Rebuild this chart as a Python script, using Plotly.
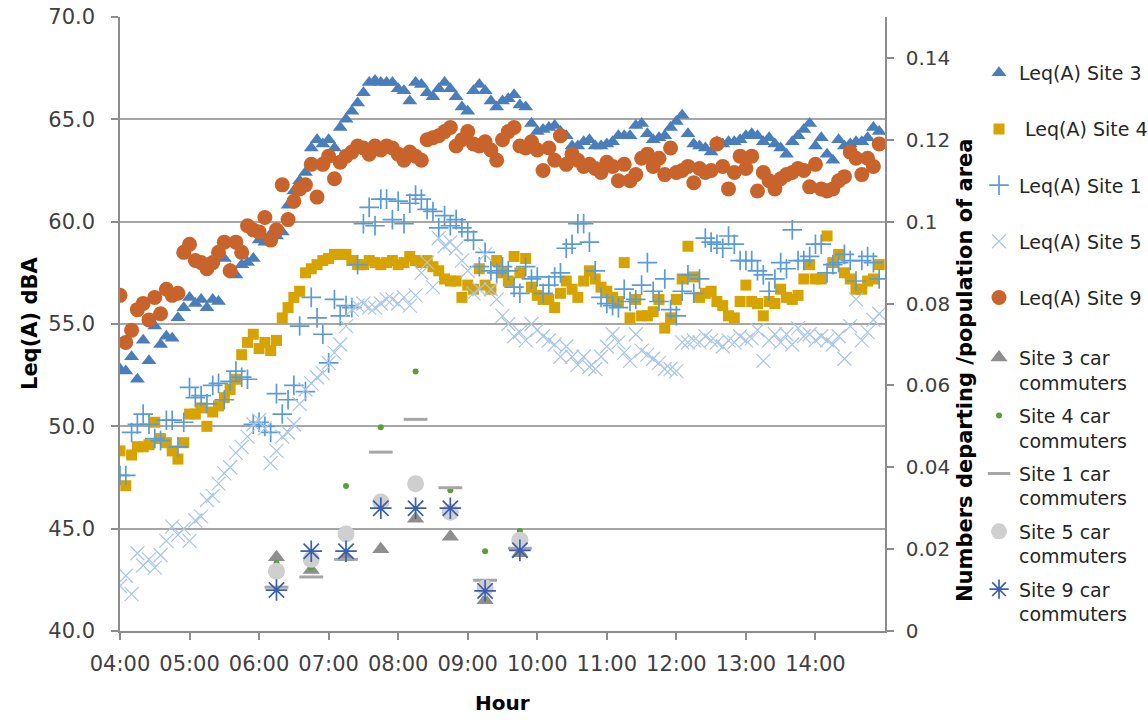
import plotly.graph_objects as go

FONT = "DejaVu Sans"

# ---------------- data ----------------
# 5-minute Leq readings from 04:00 to 14:55
times = ["2020-01-01 %02d:%02d" % (4 + (5 * i) // 60, (5 * i) % 60) for i in range(132)]

site3 = [52.8, 52.7, 53.4, 52.3, 54.2, 53.2, 54.9, 54.0, 54.4, 54.3,
         55.3, 55.8, 56.3, 56.0, 56.2, 55.8, 56.2, 56.1, 58.2, 57.7,
         57.4, 57.9, 58.0, 58.2, 59.1, 59.0, 59.4, 59.3, 59.5, 60.8,
         61.5, 62.0, 62.4, 63.6, 64.0, 63.8, 64.0, 63.6, 64.6, 65.0,
         65.4, 65.8, 66.3, 66.8, 66.9, 66.8, 66.8, 66.8, 66.5, 66.4,
         65.9, 66.8, 66.7, 66.3, 66.1, 66.5, 66.8, 66.5, 66.1, 65.6,
         65.4, 66.4, 66.7, 66.4, 65.9, 65.6, 65.9, 66.0, 66.2, 65.7,
         65.6, 64.8, 64.4, 64.5, 64.6, 64.7, 64.4, 64.2, 63.7, 63.7,
         63.9, 64.0, 63.7, 63.7, 63.8, 63.9, 64.2, 64.2, 64.2, 64.7,
         64.8, 64.3, 64.0, 64.1, 64.2, 64.6, 64.9, 65.2, 64.3, 63.8,
         63.7, 63.6, 63.4, 63.9, 63.8, 63.9, 63.9, 64.0, 64.2, 64.3,
         64.2, 63.9, 64.1, 63.8, 63.6, 63.3, 63.9, 64.2, 64.5, 64.8,
         63.7, 64.1, 63.3, 63.0, 64.0, 63.7, 63.8, 63.9, 63.9, 64.1,
         64.6, 64.4]

site4 = [48.8, 47.1, 48.6, 49.0, 49.0, 49.1, 50.2, 49.4, 49.2, 48.8,
         48.4, 49.2, 50.6, 50.6, 50.9, 50.0, 50.7, 51.0, 51.4, 51.8,
         52.3, 53.5, 54.1, 54.5, 53.8, 54.1, 53.7, 54.2, 55.3, 55.8,
         56.3, 56.6, 57.5, 57.7, 57.9, 58.1, 58.2, 58.4, 58.4, 58.4,
         58.1, 57.9, 57.9, 58.1, 58.0, 57.9, 58.0, 58.1, 57.9, 58.0,
         58.3, 58.1, 58.0, 58.1, 57.8, 57.6, 57.2, 57.1, 57.1, 56.3,
         56.9, 56.7, 57.7, 56.9, 56.7, 58.1, 57.5, 57.1, 58.3, 57.5,
         58.2, 56.8, 56.4, 56.2, 56.2, 55.8, 56.5, 57.1, 56.7, 56.3,
         57.1, 57.6, 57.2, 56.8, 56.6, 56.3, 56.1, 58.0, 55.3, 56.2,
         55.4, 55.4, 55.6, 56.2, 54.8, 55.3, 56.2, 57.2, 58.8, 57.3,
         56.3, 56.5, 56.6, 56.1, 55.9, 55.4, 55.3, 56.1, 56.9, 56.1,
         56.0, 55.4, 56.1, 56.0, 56.7, 56.3, 56.2, 56.4, 57.2, 57.9,
         57.2, 57.2, 59.3, 58.0, 58.4, 57.5, 57.2, 56.7, 56.7, 57.1,
         57.2, 57.9]

site1 = [47.6, 47.6, 49.7, 50.1, 50.6, 50.1, 49.4, 49.3, 50.3, 50.3,
         49.0, 50.2, 51.9, 51.4, 51.5, 51.1, 52.0, 52.1, 51.3, 52.2,
         52.7, 52.4, 52.3, 50.1, 50.2, 50.0, 49.7, 51.6, 50.6, 51.3,
         52.0, 54.9, 51.7, 56.3, 55.3, 54.5, 53.1, 56.2, 55.4, 55.9,
         55.8, 57.9, 59.9, 60.7, 59.8, 61.1, 61.1, 60.1, 61.0, 59.9,
         60.9, 61.3, 61.1, 60.6, 60.5, 59.7, 60.3, 59.8, 60.1, 59.7,
         59.5, 59.1, 57.8, 58.5, 57.6, 57.5, 57.8, 57.6, 56.8, 56.5,
         57.8, 57.2, 57.3, 56.5, 56.9, 57.3, 57.5, 58.7, 58.9, 59.9,
         59.9, 59.0, 57.6, 56.3, 56.0, 55.9, 55.8, 56.7, 56.1, 56.2,
         56.9, 58.0, 56.6, 56.1, 57.2, 55.7, 55.4, 56.6, 57.4, 56.5,
         57.2, 59.2, 59.0, 58.9, 58.7, 59.3, 58.9, 58.1, 58.1, 58.1,
         57.6, 57.4, 56.6, 57.2, 58.0, 57.7, 59.6, 58.1, 58.1, 58.3,
         58.9, 58.9, 57.5, 57.9, 58.0, 58.4, 58.1, 57.1, 58.1, 58.3,
         58.0, 57.2]

site5 = [42.2, 42.7, 41.8, 43.8, 43.2, 43.5, 43.1, 43.7, 44.4, 45.1,
         44.7, 45.0, 44.4, 45.4, 45.6, 46.4, 46.6, 47.2, 47.7, 48.0,
         48.7, 49.0, 49.5, 50.1, 50.3, 49.9, 48.2, 48.8, 49.5, 49.7,
         50.1, 51.1, 51.8, 52.1, 52.4, 52.6, 53.1, 53.6, 54.0, 54.9,
         55.7, 55.9, 56.0, 55.8, 55.8, 56.0, 56.2, 56.2, 56.0, 56.3,
         55.9, 56.4, 57.5, 58.0, 56.8, 59.2, 58.8, 59.0, 58.7, 58.1,
         57.6, 56.5, 56.7, 58.4, 56.7, 56.2, 55.4, 55.0, 54.4, 54.6,
         54.2, 55.0, 54.7, 54.4, 54.2, 54.0, 53.4, 53.9, 53.4, 53.0,
         53.4, 52.9, 52.8, 53.4, 53.9, 54.5, 54.1, 53.6, 53.2, 54.5,
         53.7, 53.5, 53.3, 53.1, 52.8, 52.8, 52.7, 54.1, 54.1, 54.2,
         54.1, 54.4, 54.2, 54.1, 53.9, 54.2, 54.1, 54.4, 54.2, 54.3,
         54.7, 53.2, 54.2, 54.5, 54.1, 54.5, 54.0, 54.8, 54.4, 54.5,
         54.2, 54.4, 54.2, 54.0, 54.4, 53.3, 54.9, 56.2, 54.2, 54.6,
         55.2, 55.5]

site9 = [56.4, 54.1, 54.7, 55.7, 56.0, 55.2, 56.3, 55.5, 56.7, 56.4,
         56.5, 58.5, 58.9, 58.1, 58.0, 57.7, 58.0, 58.5, 59.0, 57.6,
         59.0, 58.5, 59.8, 59.6, 59.5, 60.2, 59.1, 59.6, 61.8, 60.1,
         61.0, 61.6, 61.8, 62.8, 61.2, 62.8, 63.2, 62.1, 62.9, 63.2,
         63.4, 63.7, 63.6, 63.3, 63.7, 63.5, 63.7, 63.6, 63.3, 63.0,
         63.4, 63.2, 63.0, 64.0, 64.1, 64.2, 64.4, 64.6, 63.7, 64.0,
         64.4, 63.8, 63.7, 63.9, 63.5, 63.0, 64.0, 64.4, 64.6, 63.7,
         63.6, 63.9, 63.5, 62.5, 63.6, 63.0, 64.2, 62.8, 63.3, 63.0,
         62.7, 62.8, 62.6, 62.4, 62.9, 62.7, 62.0, 62.8, 62.0, 62.3,
         63.1, 63.3, 62.7, 63.1, 62.3, 63.6, 62.4, 62.5, 62.7, 61.9,
         62.6, 62.4, 62.5, 63.8, 62.7, 61.6, 62.4, 63.2, 62.6, 63.2,
         61.5, 62.4, 62.0, 61.6, 62.1, 62.3, 62.4, 62.6, 62.5, 61.7,
         62.8, 61.6, 61.5, 61.6, 62.0, 62.2, 63.4, 63.1, 62.3, 63.1,
         62.7, 63.8]

# car commuters departing / population (right axis), half-hourly
car_times = ["2020-01-01 06:15", "2020-01-01 06:45", "2020-01-01 07:15", "2020-01-01 07:45",
             "2020-01-01 08:15", "2020-01-01 08:45", "2020-01-01 09:15", "2020-01-01 09:45"]
car3 = [0.0180, 0.0149, 0.0180, 0.0200, 0.0274, 0.0230, 0.0075, 0.0190]
car4 = [0.0166, 0.0155, 0.0354, 0.0498, 0.0634, 0.0344, 0.0195, 0.0244]
car1 = [0.0107, 0.0132, 0.0175, 0.0437, 0.0517, 0.0350, 0.0124, 0.0202]
car5 = [0.0146, 0.0175, 0.0237, 0.0315, 0.0360, 0.0290, 0.0105, 0.0222]
car9 = [0.0100, 0.0195, 0.0195, 0.0300, 0.0300, 0.0300, 0.0098, 0.0197]

x_ticks = ["2020-01-01 %02d:00" % h for h in range(4, 15)]
y2_tickvals = [0, 0.02, 0.04, 0.06, 0.08, 0.1, 0.12, 0.14]
y2_ticktext = ["0", "0.02", "0.04", "0.06", "0.08", "0.1", "0.12", "0.14"]

# ---------------- figure ----------------
fig = go.Figure()

leq = [
    ("Leq(A) Site 3", site3, dict(symbol="triangle-up", size=13, color="#4a7ebb")),
    (" Leq(A) Site 4", site4, dict(symbol="square", size=11, color="#d6a300")),
    ("Leq(A) Site 1", site1, dict(symbol="cross-thin", size=14, color="#5b9bd5",
                                  line=dict(color="#5b9bd5", width=1.7))),
    ("Leq(A) Site 5", site5, dict(symbol="x-thin", size=14, color="#a9c5ea",
                                  line=dict(color="#a9c5ea", width=1.2))),
    ("Leq(A) Site 9", site9, dict(symbol="circle", size=15, color="#c8642b")),
]
for i, (name, vals, mk) in enumerate(leq):
    fig.add_trace(go.Scatter(x=times, y=vals, mode="markers", name=name, marker=mk,
                             legend="legend", legendgroup="g%d" % i))

cars = [
    ("Site 3 car<br>commuters", car3, dict(symbol="triangle-up", size=15, color="#8e8e8e")),
    ("Site 4 car<br>commuters", car4, dict(symbol="circle", size=6, color="#5a9e3a")),
    ("Site 1 car<br>commuters", car1, dict(symbol="line-ew", size=17, color="#a6a6a6",
                                           line=dict(color="#a6a6a6", width=3))),
    ("Site 5 car<br>commuters", car5, dict(symbol="circle", size=17, color="#cfcfcf")),
    ("Site 9 car<br>commuters", car9, dict(symbol="asterisk", size=18, color="#3a5fb0",
                                           line=dict(color="#3a5fb0", width=1.7))),
]
for i, (name, vals, mk) in enumerate(cars):
    fig.add_trace(go.Scatter(x=car_times, y=vals, mode="markers", name=name, marker=mk,
                             yaxis="y2", legend="legend2", legendgroup="c%d" % i))

axis_col = "#8c8c8c"
tick_font = dict(family=FONT, size=21, color="#404040")

fig.update_layout(
    width=1148, height=720,
    margin=dict(l=120, r=263, t=17, b=89, autoexpand=False),
    paper_bgcolor="white", plot_bgcolor="white",
    font=dict(family=FONT, color="#404040"),
    showlegend=True,
    xaxis=dict(type="date", range=["2020-01-01 04:00", "2020-01-01 15:00"],
               tickvals=x_ticks, tickformat="%H:%M", ticks="outside", ticklen=7,
               tickcolor=axis_col, tickwidth=1.5, showline=True, linecolor=axis_col,
               linewidth=1.5, showgrid=False, zeroline=False, tickfont=tick_font,
               ticklabelstandoff=6, automargin=False),
    yaxis=dict(range=[40, 70], dtick=5, tick0=40, tickformat=".1f", ticks="outside",
               ticklen=7, tickcolor=axis_col, tickwidth=1.5, showline=True,
               linecolor=axis_col, linewidth=1.5, showgrid=True, gridcolor="#a6a6a6",
               gridwidth=1.5, zeroline=False, tickfont=tick_font, ticklabelstandoff=12,
               automargin=False),
    yaxis2=dict(range=[0, 0.15], overlaying="y", side="right", tickvals=y2_tickvals,
                ticktext=y2_ticktext, ticks="outside", ticklen=7, tickcolor=axis_col,
                tickwidth=1.5, showline=True, linecolor=axis_col, linewidth=1.5,
                showgrid=False, zeroline=False,
                tickfont=dict(family=FONT, size=20, color="#404040"),
                ticklabelstandoff=8, automargin=False),
    legend=dict(x=1.1229, xanchor="left", y=0.940, yanchor="top",
                font=dict(family=FONT, size=19, color="#262626"),
                tracegroupgap=28.5, bgcolor="rgba(0,0,0,0)", itemwidth=30),
    legend2=dict(x=1.1229, xanchor="left", y=0.476, yanchor="top",
                 font=dict(family=FONT, size=19, color="#262626"),
                 tracegroupgap=5.5, valign="top", bgcolor="rgba(0,0,0,0)", itemwidth=30),
    annotations=[
        dict(text="Leq(A) dBA", xref="paper", yref="paper", x=0, y=0.5, xshift=-90,
             textangle=-90, showarrow=False, xanchor="center", yanchor="middle",
             font=dict(family=FONT, size=21, color="#000000", weight="bold")),
        dict(text="Numbers departing /population of area", xref="paper", yref="paper",
             x=1, y=0.4235, xshift=80, textangle=-90, showarrow=False,
             xanchor="center", yanchor="middle",
             font=dict(family=FONT, size=21, color="#000000", weight="bold")),
        dict(text="Hour", xref="paper", yref="paper", x=0.5, y=0, yshift=-72,
             showarrow=False, xanchor="center", yanchor="middle",
             font=dict(family=FONT, size=20, color="#000000", weight="bold")),
    ],
)

fig.write_html("out.html")
